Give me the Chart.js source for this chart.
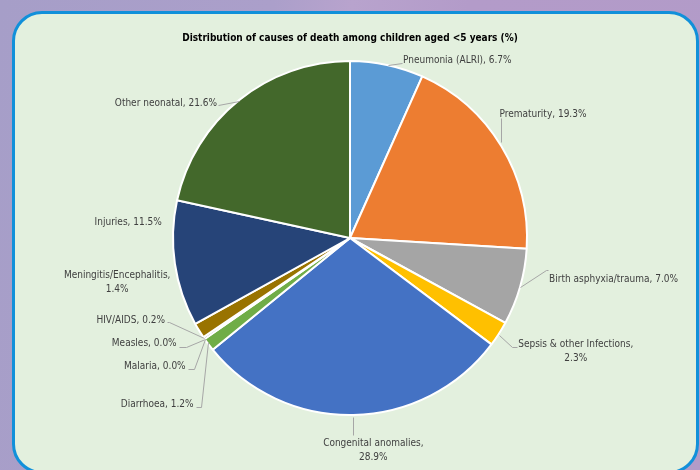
<!DOCTYPE html>
<html>
<head>
<meta charset="utf-8">
<script src="https://cdn.jsdelivr.net/npm/chart.js@4.4.1/dist/chart.umd.min.js"></script>
<style>
  html, body { margin: 0; padding: 0; overflow: hidden; }
  #stage {
    width: 700px; height: 470px; overflow: hidden; position: relative;
    background: linear-gradient(100deg, #a69ec8 0%, #ab9fca 35%, #b8a3cd 45%, #b39bc9 60%, #b29bc8 100%);
  }
  #panel {
    position: absolute; left: 12px; top: 11px; width: 681px; height: 457px;
    border: 3px solid #1190da; border-radius: 30px;
    background: #e3f0de;
  }
  #wrap { position: absolute; left: 0; top: 0; width: 700px; height: 470px; }
</style>
</head>
<body>
<div id="stage">
  <div id="panel"></div>
  <div id="wrap"><canvas id="pie" width="700" height="470"></canvas></div>
</div>
<script>
// ── DATA ──
const causes = [
  "Pneumonia (ALRI)", "Prematurity", "Birth asphyxia/trauma", "Sepsis & other Infections",
  "Congenital anomalies", "Diarrhoea", "Malaria", "Measles", "HIV/AIDS",
  "Meningitis/Encephalitis", "Injuries", "Other neonatal"
];
const shares = [6.7, 19.3, 7.0, 2.3, 28.9, 1.2, 0.0, 0.0, 0.2, 1.4, 11.5, 21.6];
const sliceColors = [
  "#5b9bd5", "#ed7d31", "#a5a5a5", "#ffc000", "#4472c4", "#70ad47",
  "#255e91", "#9e480e", "#636363", "#997300", "#264478", "#43682b"
];
const chartTitle = "Distribution of causes of death among children aged <5 years (%)";

// ── LABEL PLACEMENT (offsets from each slice's outer mid point) ──
// t: [dx, dy] of first text line; leader: polyline points
const labelStyle = [
  { t: [16, -4],  align: "left",   split: false, leader: [[1, 0], [15, -2]] },
  { t: [-2, -32], align: "left",   split: false, leader: [[0, -4], [0, -28]] },
  { t: [29, -8],  align: "left",   split: false, leader: [[0, 0], [26, -17], [28, -17]] },
  { t: [77, 10],  align: "center", split: true,  leader: [[0, 1], [13, 13], [18, 13]] },
  { t: [20, 28],  align: "center", split: true,  leader: [[0, 2], [0, 20]] },
  { t: [-15, 60], align: "right",  split: false, leader: [[-1, -2], [-8, 63], [-13, 63]] },
  { t: [-19, 27], align: "right",  split: false, leader: [[0, 0], [-11, 30], [-17, 30]] },
  { t: [-28, 4],  align: "right",  split: false, leader: [[0, 0], [-19, 8], [-26, 8]] },
  { t: [-39, -18],align: "right",  split: false, leader: [[0, 0], [-35, -16], [-37, -16]] },
  { t: [-82, -55],align: "center", split: true,  leader: null },
  { t: [-13, -41],align: "right",  split: false, leader: null },
  { t: [-22, 3],  align: "right",  split: false, leader: [[0, 1], [-21, 5]] }
];

const FONT = "'Liberation Sans Narrow', 'DejaVu Sans Condensed', sans-serif";

const labelPlugin = {
  id: "sliceLabels",
  afterDatasetsDraw(chart) {
    const ctx = chart.ctx;
    const meta = chart.getDatasetMeta(0);
    ctx.save();

    // title
    ctx.fillStyle = "#000";
    ctx.font = "bold 10px " + FONT;
    ctx.textAlign = "center";
    ctx.textBaseline = "middle";
    ctx.fillText(chartTitle, 350, 38);

    ctx.font = "10px " + FONT;
    meta.data.forEach((arc, i) => {
      const p = arc.getProps(["x", "y", "startAngle", "endAngle", "outerRadius"], true);
      const mid = (p.startAngle + p.endAngle) / 2;
      const px = p.x + Math.cos(mid) * p.outerRadius;
      const py = p.y + Math.sin(mid) * p.outerRadius;
      const st = labelStyle[i];

      if (st.leader) {
        ctx.strokeStyle = "#a6a6a6";
        ctx.lineWidth = 1;
        ctx.beginPath();
        st.leader.forEach(([lx, ly], k) => {
          const X = Math.round(px + lx) + 0.5, Y = Math.round(py + ly) + 0.5;
          k ? ctx.lineTo(X, Y) : ctx.moveTo(X, Y);
        });
        ctx.stroke();
      }

      const value = shares[i].toFixed(1) + "%";
      const lines = st.split ? [causes[i] + ",", value] : [causes[i] + ", " + value];
      ctx.fillStyle = "#404040";
      ctx.textAlign = st.align;
      ctx.textBaseline = "middle";
      lines.forEach((ln, k) => {
        ctx.fillText(ln, px + st.t[0], py + st.t[1] + k * 14);
      });
    });
    ctx.restore();
  }
};

new Chart(document.getElementById("pie"), {
  type: "pie",
  data: {
    labels: causes,
    datasets: [{
      data: shares,
      backgroundColor: sliceColors,
      borderColor: "#ffffff",
      borderWidth: 2
    }]
  },
  options: {
    responsive: false,
    animation: false,
    layout: { padding: { top: 60, bottom: 54, left: 172, right: 172 } },
    plugins: {
      legend: { display: false },
      tooltip: { enabled: false },
      title: { display: false }
    }
  },
  plugins: [labelPlugin]
});
</script>
</body>
</html>
